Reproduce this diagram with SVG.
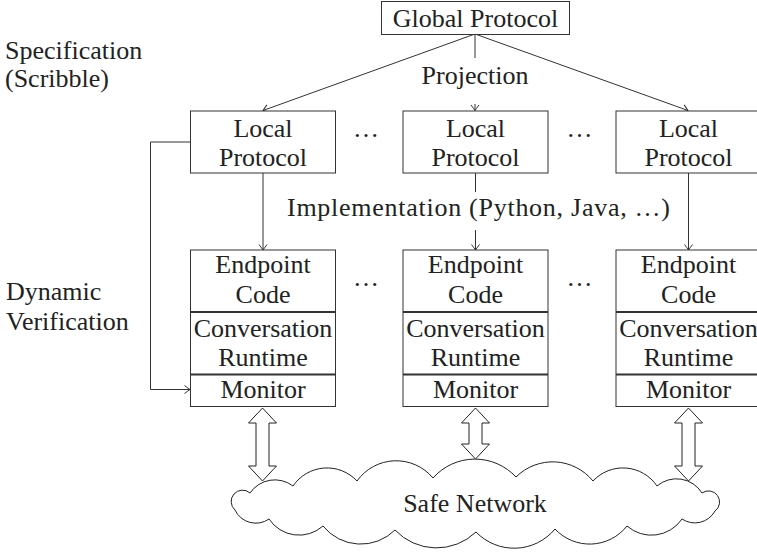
<svg xmlns="http://www.w3.org/2000/svg" width="757" height="554" viewBox="0 0 757 554">
<style>
text{font-family:"Liberation Serif","Times New Roman",serif;font-size:26px;fill:#222}
.c{text-anchor:middle}
.box{fill:#fff;stroke:#333;stroke-width:1}
.div{stroke:#333;stroke-width:1.8}
.ln{fill:none;stroke:#333;stroke-width:1}
.dbl{fill:#fff;stroke:#222;stroke-width:1}
</style>
<defs>
<marker id="to" viewBox="-7 -5 8 10" refX="0" refY="0" markerWidth="8" markerHeight="10" markerUnits="userSpaceOnUse" orient="auto">
<path d="M-5.5,-4 Q-1.5,-1 0,0 Q-1.5,1 -5.5,4" fill="none" stroke="#333" stroke-width="1"/>
</marker>
</defs>

<g id="labels">
<text x="5" y="59">Specification</text>
<text x="5" y="87">(Scribble)</text>
<text x="6" y="300">Dynamic</text>
<text x="6" y="330">Verification</text>
</g>

<g id="connectors">
<line class="ln" x1="475" y1="34" x2="263" y2="110.5" marker-end="url(#to)"/>
<line class="ln" x1="475" y1="34" x2="688" y2="110.5" marker-end="url(#to)"/>
<line class="ln" x1="475" y1="34" x2="475" y2="58"/>
<line class="ln" x1="475" y1="104" x2="475" y2="110.5" marker-end="url(#to)"/>
<line class="ln" x1="263" y1="173" x2="263" y2="250" marker-end="url(#to)"/>
<line class="ln" x1="475.5" y1="173" x2="475.5" y2="192"/>
<line class="ln" x1="475.5" y1="230" x2="475.5" y2="250" marker-end="url(#to)"/>
<line class="ln" x1="688.5" y1="173" x2="688.5" y2="250" marker-end="url(#to)"/>
<polyline class="ln" points="190.5,142 150.5,142 150.5,389.5 190,389.5" marker-end="url(#to)"/>
<text class="c" x="475" y="84">Projection</text>
<text x="287" y="216" textLength="383" lengthAdjust="spacing">Implementation (Python, Java, …)</text>
</g>

<g id="global">
<rect class="box" x="381.5" y="1.5" width="188" height="33"/>
<text class="c" x="475.5" y="26.5">Global Protocol</text>
</g>

<g id="local1">
<rect class="box" x="190.5" y="111" width="145" height="62"/>
<text class="c" x="263" y="136.5">Local</text>
<text class="c" x="263" y="165.5">Protocol</text>
</g>
<g id="local2">
<rect class="box" x="403" y="111" width="145" height="62"/>
<text class="c" x="475.5" y="136.5">Local</text>
<text class="c" x="475.5" y="165.5">Protocol</text>
</g>
<g id="local3">
<rect class="box" x="616" y="111" width="145" height="62"/>
<text class="c" x="688.5" y="136.5">Local</text>
<text class="c" x="688.5" y="165.5">Protocol</text>
</g>

<g id="dots">
<text class="c" x="366" y="137">…</text>
<text class="c" x="579.5" y="137">…</text>
<text class="c" x="366" y="286">…</text>
<text class="c" x="579.5" y="286">…</text>
</g>

<g id="endpoint1">
<rect class="box" x="190.5" y="250" width="145" height="156.5"/>
<line class="div" x1="190.5" y1="312" x2="335.5" y2="312"/>
<line class="div" x1="190.5" y1="374.5" x2="335.5" y2="374.5"/>
<text class="c" x="263" y="273">Endpoint</text>
<text class="c" x="263" y="303">Code</text>
<text class="c" x="263" y="337">Conversation</text>
<text class="c" x="263" y="366">Runtime</text>
<text class="c" x="263" y="398">Monitor</text>
</g>
<g id="endpoint2">
<rect class="box" x="403" y="250" width="145" height="156.5"/>
<line class="div" x1="403" y1="312" x2="548" y2="312"/>
<line class="div" x1="403" y1="374.5" x2="548" y2="374.5"/>
<text class="c" x="475.5" y="273">Endpoint</text>
<text class="c" x="475.5" y="303">Code</text>
<text class="c" x="475.5" y="337">Conversation</text>
<text class="c" x="475.5" y="366">Runtime</text>
<text class="c" x="475.5" y="398">Monitor</text>
</g>
<g id="endpoint3">
<rect class="box" x="616" y="250" width="145" height="156.5"/>
<line class="div" x1="616" y1="312" x2="761" y2="312"/>
<line class="div" x1="616" y1="374.5" x2="761" y2="374.5"/>
<text class="c" x="688.5" y="273">Endpoint</text>
<text class="c" x="688.5" y="303">Code</text>
<text class="c" x="688.5" y="337">Conversation</text>
<text class="c" x="688.5" y="366">Runtime</text>
<text class="c" x="688.5" y="398">Monitor</text>
</g>

<g id="network">
<path class="dbl" d="M250,493 A30,30 0 0 1 293,486 A41,41 0 0 1 357,481 A48,48 0 0 1 433,478 A56,56 0 0 1 516,477 A52,52 0 0 1 593,481 A41,41 0 0 1 657,486 A30,30 0 0 1 702,493 A11,11 0 0 1 715,511 A23,23 0 0 1 682,519 A37,37 0 0 1 627,526 A47.5,47.5 0 0 1 555,529 A53,53 0 0 1 476,532 A57,57 0 0 1 395,530 A48.5,48.5 0 0 1 323,526 A36,36 0 0 1 269,519 A23,23 0 0 1 235,510 A11,11 0 0 1 250,493 Z"/>
<text class="c" x="475" y="512">Safe Network</text>
</g>

<g id="links">
<polygon class="dbl" points="262.5,408 276.5,423 269,423 269,466 276.5,466 262.5,481 248.5,466 256,466 256,423 248.5,423"/>
<polygon class="dbl" points="475.5,408 489.5,423 482,423 482,444 489.5,444 475.5,459 461.5,444 469,444 469,423 461.5,423"/>
<polygon class="dbl" points="688.5,408 702.5,423 695,423 695,466 702.5,466 688.5,481 674.5,466 682,466 682,423 674.5,423"/>
</g>
</svg>
